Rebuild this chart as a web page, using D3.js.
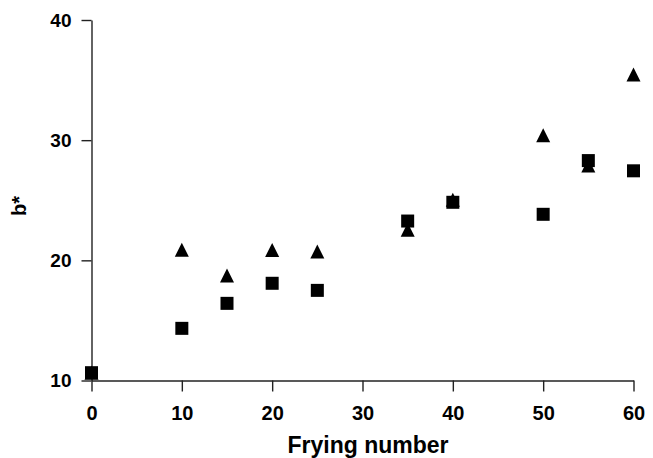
<!DOCTYPE html>
<html>
<head>
<meta charset="utf-8">
<script src="https://cdn.jsdelivr.net/npm/d3@7"></script>
<style>
  body { margin: 0; background: #fff; }
  text { font-family: "Liberation Sans", Arial, sans-serif; font-weight: bold; fill: #000; }
</style>
</head>
<body>
<div id="chart"></div>
<script>
const width = 653;
const height = 458;

// frying number (x) and b* values for the two series
const frying = [0, 10, 15, 20, 25, 35, 40, 50, 55, 60];
const squareVals = [10.65, 14.34, 16.42, 18.09, 17.5, 23.27, 24.83, 23.83, 28.3, 27.45];
const triangleVals = [10.65, 20.88, 18.74, 20.87, 20.73, 22.55, 25.04, 30.4, 27.9, 35.46];
const xTicks = [0, 10, 20, 30, 40, 50, 60];
const yTicks = [10, 20, 30, 40];

const svg = d3.select('#chart').append('svg')
  .attr('width', width)
  .attr('height', height);

const x = d3.scaleLinear().domain([0, 60]).range([91.5, 633.5]);
const y = d3.scaleLinear().domain([10, 40]).range([380.5, 20]);

const xAxis = svg.append('g')
  .attr('transform', `translate(0,${y(10)})`)
  .call(d3.axisBottom(x).tickValues(xTicks).tickSize(11).tickSizeOuter(0).tickPadding(14));
xAxis.selectAll('text').style('font-size', '20px').attr('font-family', null);

const yAxis = svg.append('g')
  .attr('transform', `translate(${x(0)},0)`)
  .call(d3.axisLeft(y).tickValues(yTicks).tickSize(10).tickSizeOuter(0).tickPadding(10));
yAxis.selectAll('text').style('font-size', '19px').attr('font-family', null);

svg.selectAll('.domain, .tick line').attr('stroke', '#222').attr('stroke-width', 1.4);

// triangles first, squares drawn on top
const tri = 14;
const triPath = `M0,${-tri / 2}L${tri / 2},${tri / 2}L${-tri / 2},${tri / 2}Z`;
svg.append('g').selectAll('path')
  .data(frying.map((f, i) => ({ f, v: triangleVals[i] })))
  .join('path')
  .attr('d', triPath)
  .attr('transform', d => `translate(${x(d.f)},${y(d.v)})`)
  .attr('fill', '#000');

const sq = 13;
svg.append('g').selectAll('rect')
  .data(frying.map((f, i) => ({ f, v: squareVals[i] })))
  .join('rect')
  .attr('x', d => x(d.f) - sq / 2)
  .attr('y', d => y(d.v) - sq / 2)
  .attr('width', sq)
  .attr('height', sq)
  .attr('fill', '#000');

svg.append('text')
  .attr('x', 368)
  .attr('y', 453)
  .attr('text-anchor', 'middle')
  .style('font-size', '23px')
  .text('Frying number');

svg.append('text')
  .attr('transform', 'translate(26,206) rotate(-90)')
  .attr('text-anchor', 'middle')
  .style('font-size', '20px')
  .text('b*');
</script>
</body>
</html>
